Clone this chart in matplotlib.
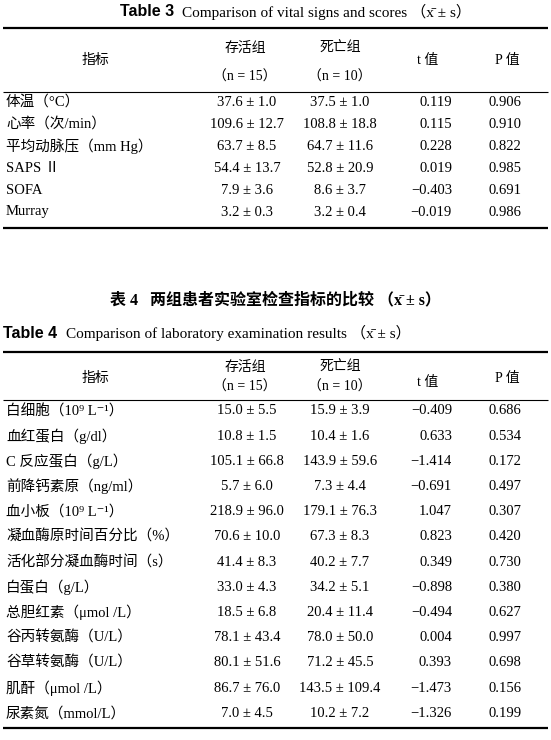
import matplotlib
matplotlib.use("Agg")
import matplotlib.pyplot as plt

FAM = ['Liberation Serif', 'Noto Sans CJK SC', 'DejaVu Sans']

t3_names = ["体温（°C）", "心率（次/min）", "平均动脉压（mm Hg）", "SAPS Ⅱ", "SOFA", "Murray"]
t3_surv = ["37.6 ± 1.0", "109.6 ± 12.7", "63.7 ± 8.5", "54.4 ± 13.7", "7.9 ± 3.6", "3.2 ± 0.3"]
t3_dead = ["37.5 ± 1.0", "108.8 ± 18.8", "64.7 ± 11.6", "52.8 ± 20.9", "8.6 ± 3.7", "3.2 ± 0.4"]
t3_t = ["0.119", "0.115", "0.228", "0.019", "−0.403", "−0.019"]
t3_p = ["0.906", "0.910", "0.822", "0.985", "0.691", "0.986"]

t4_names = ["白细胞（10⁹ L⁻¹）", "血红蛋白（g/dl）", "C 反应蛋白（g/L）", "前降钙素原（ng/ml）",
            "血小板（10⁹ L⁻¹）", "凝血酶原时间百分比（%）", "活化部分凝血酶时间（s）", "白蛋白（g/L）",
            "总胆红素（μmol /L）", "谷丙转氨酶（U/L）", "谷草转氨酶（U/L）", "肌酐（μmol /L）", "尿素氮（mmol/L）"]
t4_surv = ["15.0 ± 5.5", "10.8 ± 1.5", "105.1 ± 66.8", "5.7 ± 6.0", "218.9 ± 96.0", "70.6 ± 10.0",
           "41.4 ± 8.3", "33.0 ± 4.3", "18.5 ± 6.8", "78.1 ± 43.4", "80.1 ± 51.6", "86.7 ± 76.0", "7.0 ± 4.5"]
t4_dead = ["15.9 ± 3.9", "10.4 ± 1.6", "143.9 ± 59.6", "7.3 ± 4.4", "179.1 ± 76.3", "67.3 ± 8.3",
           "40.2 ± 7.7", "34.2 ± 5.1", "20.4 ± 11.4", "78.0 ± 50.0", "71.2 ± 45.5", "143.5 ± 109.4", "10.2 ± 7.2"]
t4_t = ["−0.409", "0.633", "−1.414", "−0.691", "1.047", "0.823", "0.349", "−0.898", "−0.494",
        "0.004", "0.393", "−1.473", "−1.326"]
t4_p = ["0.686", "0.534", "0.172", "0.497", "0.307", "0.420", "0.730", "0.380", "0.627",
        "0.997", "0.698", "0.156", "0.199"]

fig = plt.figure(figsize=(5.51, 7.40), dpi=100)
ax = fig.add_axes([0, 0, 1, 1])
ax.set_xlim(0, 551); ax.set_ylim(740, 0); ax.axis('off')

def txt(x, y, s, ha='left', size=10.5, **kw):
    ax.text(x, y, s, ha=ha, va='center', fontsize=size, family=kw.pop('family', FAM), **kw)

def rule(y, lw):
    ax.plot([3, 548], [y, y], color='black', lw=lw, solid_capstyle='butt')

XB = "（x̄ ± s）"

def header(y_top, y_mid, y_bot, y_t):
    txt(95, y_mid, "指标", ha='center', size=10)
    txt(245, y_top, "存活组", ha='center', size=10)
    txt(245, y_bot, "（n = 15）", ha='center', size=10)
    txt(340, y_top, "死亡组", ha='center', size=10)
    txt(340, y_bot, "（n = 10）", ha='center', size=10)
    txt(428, y_t, "t 值", ha='center', size=10)
    txt(507, y_mid, "P 值", ha='center', size=10)

# Table 3
txt(120, 12, "Table 3", size=11.5, weight='bold', family=['Liberation Sans'])
txt(182, 12, "Comparison of vital signs and scores " + XB, size=11)
rule(28, 1.6)
header(48, 60, 77, 60)
rule(92, 0.8)
for i in range(len(t3_names)):
    y = 102 + 22 * i
    txt(6, y, t3_names[i])
    txt(247, y, t3_surv[i], ha='center')
    txt(340, y, t3_dead[i], ha='center')
    txt(452, y, t3_t[i], ha='right')
    txt(505, y, t3_p[i], ha='center')
rule(228, 1.6)

# Table 4
txt(275, 300, "表 4   两组患者实验室检查指标的比较 " + XB, ha='center', size=11.5, weight='bold')
txt(3, 333, "Table 4", size=11.5, weight='bold', family=['Liberation Sans'])
txt(66, 333, "Comparison of laboratory examination results " + XB, size=11)
rule(352, 1.6)
header(367, 378, 387, 382)
rule(400, 0.8)
for i in range(len(t4_names)):
    y = 411 + 25.2 * i
    txt(6, y, t4_names[i])
    txt(247, y, t4_surv[i], ha='center')
    txt(340, y, t4_dead[i], ha='center')
    txt(452, y, t4_t[i], ha='right')
    txt(505, y, t4_p[i], ha='center')
rule(728, 1.6)

fig.savefig("out.png", dpi=100, facecolor='white')
